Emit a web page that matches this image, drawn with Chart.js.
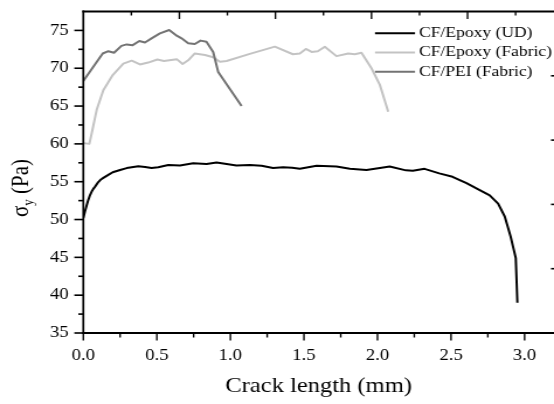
<!DOCTYPE html>
<html>
<head>
<meta charset="utf-8">
<script src="https://cdn.jsdelivr.net/npm/chart.js@4.4.1/dist/chart.umd.min.js"></script>
<style>
  html, body { margin: 0; padding: 0; background: #fff; overflow: hidden; width: 554px; height: 404px; }
  #c { display: block; transform-origin: 0 0; }
</style>
</head>
<body>
<canvas id="c" width="474" height="404"></canvas>
<script>
// ---- data: crack length (mm) vs sigma_y (Pa) ----
const udX = [0, 0.011, 0.023, 0.034, 0.045, 0.057, 0.068, 0.08, 0.102, 0.12, 0.136, 0.17, 0.2, 0.25, 0.295, 0.374, 0.42, 0.464, 0.509, 0.578, 0.657,
  0.747, 0.838, 0.906, 0.974, 1.041, 1.132, 1.212, 1.29, 1.358, 1.42, 1.472, 1.586, 1.721, 1.812, 1.925, 2.016,
  2.083, 2.193, 2.24, 2.32, 2.42, 2.51, 2.605, 2.695, 2.763, 2.82, 2.865, 2.905, 2.94, 2.951];
const udY = [50.2, 51.05, 51.9, 52.6, 53.2, 53.7, 54.05, 54.35, 54.95, 55.3, 55.5, 55.9, 56.25, 56.55, 56.8, 57.05, 56.95, 56.8, 56.9, 57.2, 57.15,
  57.45, 57.35, 57.55, 57.35, 57.15, 57.2, 57.1, 56.8, 56.9, 56.85, 56.7, 57.1, 57.0, 56.7, 56.55, 56.8,
  57.0, 56.5, 56.45, 56.7, 56.1, 55.65, 54.8, 53.9, 53.2, 52.1, 50.4, 47.75, 44.9, 39.0];

const fabX = [0, 0.041, 0.057, 0.091, 0.136, 0.2, 0.272, 0.329, 0.385, 0.441, 0.503, 0.548, 0.635, 0.675, 0.713,
  0.758, 0.827, 0.883, 0.929, 0.974, 1.132, 1.302, 1.425, 1.472, 1.513, 1.552, 1.594, 1.642, 1.721, 1.801,
  1.846, 1.891, 1.959, 2.016, 2.073];
const fabY = [60.1, 60.0, 61.4, 64.5, 67.1, 69.1, 70.6, 71.0, 70.5, 70.75, 71.15, 70.95, 71.2, 70.55, 71.05,
  71.95, 71.75, 71.45, 70.85, 70.95, 71.9, 72.85, 71.85, 71.95, 72.55, 72.15, 72.25, 72.85, 71.6, 71.95,
  71.85, 72.05, 70.0, 67.8, 64.25];

const peiX = [0, 0.068, 0.132, 0.17, 0.209, 0.259, 0.295, 0.336, 0.381, 0.419, 0.464, 0.521, 0.584, 0.635, 0.668,
  0.713, 0.758, 0.797, 0.837, 0.883, 0.917, 1.076];
const peiY = [68.3, 70.2, 71.95, 72.25, 72.05, 72.95, 73.15, 73.05, 73.6, 73.4, 73.95, 74.6, 75.05, 74.3, 73.95,
  73.3, 73.2, 73.65, 73.5, 72.15, 69.5, 65.0];

const seriesLabels = ['CF/Epoxy (UD)', 'CF/Epoxy (Fabric)', 'CF/PEI (Fabric)'];
const seriesColors = ['#000000', '#c3c3c3', '#737373'];

const xTicks = [0, 0.5, 1.0, 1.5, 2.0, 2.5, 3.0];
const yTicks = [35, 40, 45, 50, 55, 60, 65, 70, 75];
const xTitle = 'Crack length (mm)';

// ---- drawing helpers ----
const SX = 554 / 474;                      // horizontal stretch of the whole figure
const canvas = document.getElementById('c');
canvas.style.transform = 'scaleX(' + SX + ')';
const FONT = "'Liberation Serif', 'Times New Roman', serif";

const toPts = (xs, ys) => xs.map((v, i) => ({ x: v, y: ys[i] }));

function seg(ctx, x1, y1, x2, y2) {
  ctx.beginPath(); ctx.moveTo(x1, y1); ctx.lineTo(x2, y2); ctx.stroke();
}

// axis frame, tick marks, legend and the y title
const framePlugin = {
  id: 'frame',
  afterDraw(chart) {
    const { ctx, chartArea: a, scales } = chart;
    const x = scales.x, y = scales.y, xt = scales.xTop, yr = scales.yRight;
    ctx.save();
    ctx.strokeStyle = '#000';
    ctx.lineCap = 'butt';

    // spines
    ctx.lineWidth = 2;
    seg(ctx, a.left - 1 / SX, a.bottom, a.right, a.bottom);
    seg(ctx, a.left - 1 / SX, a.top, a.right, a.top);
    ctx.lineWidth = 2 / SX;
    seg(ctx, a.left, a.top - 1, a.left, a.bottom + 1);

    // bottom ticks (outward), majors on labelled values, minors halfway
    ctx.lineWidth = 1.6 / SX;
    for (let i = 0; i < xTicks.length; i++) {
      const p = x.getPixelForValue(xTicks[i]);
      seg(ctx, p, a.bottom, p, a.bottom + 7.5);
      const m = xTicks[i] + 0.25;
      if (m <= x.max) {
        const q = x.getPixelForValue(m);
        seg(ctx, q, a.bottom, q, a.bottom + 4.5);
      }
    }
    // top ticks (inward)
    for (let v = 0.5; v <= xt.max; v += 0.5) {
      const p = xt.getPixelForValue(v);
      const major = Math.abs(v - Math.round(v)) < 1e-6;
      seg(ctx, p, a.top, p, a.top + (major ? 7.5 : 4));
    }
    // left ticks (outward)
    ctx.lineWidth = 1.6;
    for (let i = 0; i < yTicks.length; i++) {
      const p = y.getPixelForValue(yTicks[i]);
      seg(ctx, a.left, p, a.left - 9 / SX, p);
      const m = yTicks[i] + 2.5;
      if (m < y.max) {
        const q = y.getPixelForValue(m);
        seg(ctx, a.left, q, a.left - 5 / SX, q);
      }
    }
    // right ticks (inward)
    for (let v = 1; v < yr.max; v++) {
      const p = yr.getPixelForValue(v);
      seg(ctx, a.right, p, a.right - 3 / SX, p);
    }

    // legend
    const lx0 = 375 / SX, lx1 = 415 / SX, tx = 419 / SX;
    const rowY = [33.3, 52.5, 71.7];
    ctx.font = '15px ' + FONT;
    ctx.textBaseline = 'middle';
    ctx.textAlign = 'left';
    ctx.fillStyle = '#000';
    chart.data.datasets.forEach((ds, i) => {
      ctx.strokeStyle = ds.borderColor;
      ctx.lineWidth = 2;
      seg(ctx, lx0, rowY[i], lx1, rowY[i]);
      ctx.fillText(ds.label, tx, rowY[i]);
    });

    // y title: sigma with subscript y, then unit
    ctx.save();
    ctx.translate(28.5 / SX, 217);
    ctx.rotate(-Math.PI / 2);
    ctx.fillStyle = '#000';
    ctx.textBaseline = 'alphabetic';
    ctx.font = '21px ' + FONT;
    ctx.fillText('σ', 0, 0);
    const w1 = ctx.measureText('σ').width;
    ctx.font = '13px ' + FONT;
    ctx.fillText('y', w1, 4);
    const w2 = ctx.measureText('y').width;
    ctx.font = '21px ' + FONT;
    ctx.fillText(' (Pa)', w1 + w2, 0);
    ctx.restore();

    ctx.restore();
  }
};

new Chart(canvas, {
  type: 'line',
  data: {
    datasets: [
      { label: seriesLabels[0], data: toPts(udX, udY), borderColor: seriesColors[0], borderWidth: 2,
        tension: 0, order: 1 },
      { label: seriesLabels[1], data: toPts(fabX, fabY), borderColor: seriesColors[1], borderWidth: 2,
        tension: 0, order: 2 },
      { label: seriesLabels[2], data: toPts(peiX, peiY), borderColor: seriesColors[2], borderWidth: 2,
        tension: 0, order: 0 }
    ]
  },
  options: {
    responsive: false,
    animation: false,
    devicePixelRatio: 1,
    layout: { padding: { top: 11.5, right: 0, bottom: 0, left: 0 } },
    elements: { point: { radius: 0 }, line: { borderJoinStyle: 'round' } },
    plugins: { legend: { display: false }, tooltip: { enabled: false } },
    scales: {
      x: {
        type: 'linear', position: 'bottom', min: 0, max: 3.2,
        afterBuildTicks: s => { s.ticks = xTicks.map(v => ({ value: v })); },
        afterFit: s => { s.height = 71; s.paddingLeft = 0; s.paddingRight = 0; },
        grid: { display: false, drawTicks: false },
        border: { display: false },
        ticks: { padding: 13, color: '#000', font: { family: FONT, size: 16 }, maxRotation: 0,
                 callback: v => Number(v).toFixed(1) },
        title: { display: true, text: xTitle, color: '#000', font: { family: FONT, size: 21 },
                 padding: { top: 0, bottom: 5 } }
      },
      xTop: {
        type: 'linear', position: 'top', min: 0, max: 4.9, display: false
      },
      y: {
        type: 'linear', position: 'left', min: 35, max: 77.5,
        afterBuildTicks: s => { s.ticks = yTicks.map(v => ({ value: v })); },
        afterFit: s => { s.width = 83.3 / SX; s.paddingTop = 0; s.paddingBottom = 0; },
        grid: { display: false, drawTicks: false },
        border: { display: false },
        ticks: { padding: 12.5, color: '#000', font: { family: FONT, size: 16 },
                 callback: v => String(v) }
      },
      yRight: {
        type: 'linear', position: 'right', min: 0, max: 5, display: false
      }
    }
  },
  plugins: [framePlugin]
});
</script>
</body>
</html>
